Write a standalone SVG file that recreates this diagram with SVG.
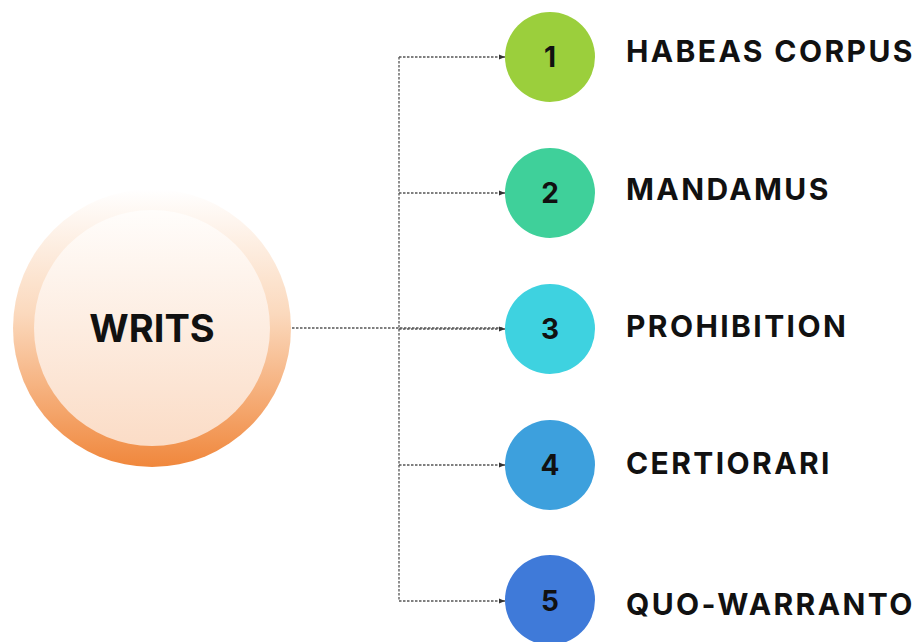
<svg xmlns="http://www.w3.org/2000/svg" width="918" height="642" viewBox="0 0 918 642">
  <defs>
    <linearGradient id="ringGrad" x1="0" y1="0" x2="0" y2="1">
      <stop offset="0" stop-color="#ffffff"/>
      <stop offset="0.45" stop-color="#fbd9bd"/>
      <stop offset="1" stop-color="#f0873c"/>
    </linearGradient>
    <linearGradient id="coreGrad" x1="0" y1="0" x2="0" y2="1">
      <stop offset="0" stop-color="#fffdfb"/>
      <stop offset="1" stop-color="#fbdcc6"/>
    </linearGradient>
    <marker id="arrow" viewBox="0 0 6 6" refX="6" refY="3" markerWidth="6" markerHeight="6" orient="auto" markerUnits="userSpaceOnUse">
      <path d="M0,0.5 L6,3 L0,5.5 Z" fill="#333"/>
    </marker>
  </defs>
  <style>
    .link { fill: none; stroke: #555; stroke-width: 1.3; stroke-dasharray: 2.5 1.5; }
    .num { font-family: Inter, "Liberation Sans", sans-serif; font-weight: 700; font-size: 28px; fill: #111; text-anchor: middle; }
    .label { font-family: Inter, "Liberation Sans", sans-serif; font-weight: 700; font-size: 30px; letter-spacing: 2.4px; fill: #111; }
    .title { font-family: Inter, "Liberation Sans", sans-serif; font-weight: 700; font-size: 38px; fill: #111; text-anchor: middle; }
  </style>
  <rect width="918" height="642" fill="#ffffff"/>

  <g id="connectors">
    <path class="link" d="M292,328 H503"/>
    <path class="link" d="M399,57 V601"/>
    <path class="link" d="M399,57 H505" marker-end="url(#arrow)"/>
    <path class="link" d="M399,193 H505" marker-end="url(#arrow)"/>
    <path class="link" d="M399,329 H505" marker-end="url(#arrow)"/>
    <path class="link" d="M399,465 H505" marker-end="url(#arrow)"/>
    <path class="link" d="M399,601 H505" marker-end="url(#arrow)"/>
  </g>

  <g id="writs">
    <circle cx="152" cy="328" r="139" fill="url(#ringGrad)"/>
    <circle cx="152" cy="328" r="118" fill="url(#coreGrad)"/>
    <text class="title" x="152" y="342">WRITS</text>
  </g>

  <g id="node-1">
    <circle cx="550" cy="57" r="45" fill="#9bcf3c"/>
    <text class="num" x="550" y="67">1</text>
    <text class="label" x="626" y="62">HABEAS CORPUS</text>
  </g>
  <g id="node-2">
    <circle cx="550" cy="193" r="45" fill="#3fd09a"/>
    <text class="num" x="550" y="203">2</text>
    <text class="label" x="626" y="200">MANDAMUS</text>
  </g>
  <g id="node-3">
    <circle cx="550" cy="329" r="45" fill="#3ed2e0"/>
    <text class="num" x="550" y="339">3</text>
    <text class="label" x="626" y="337">PROHIBITION</text>
  </g>
  <g id="node-4">
    <circle cx="550" cy="465" r="45" fill="#3da0dd"/>
    <text class="num" x="550" y="475">4</text>
    <text class="label" x="626" y="474">CERTIORARI</text>
  </g>
  <g id="node-5">
    <circle cx="550" cy="600" r="45" fill="#3f7ad9"/>
    <text class="num" x="550" y="611">5</text>
    <text class="label" x="626" y="615">QUO-WARRANTO</text>
  </g>
</svg>
